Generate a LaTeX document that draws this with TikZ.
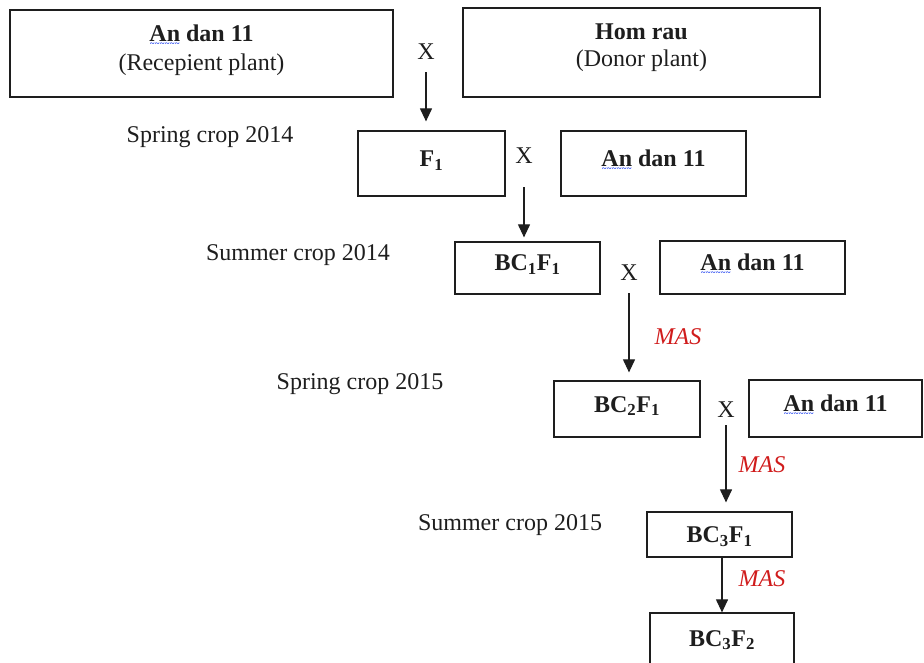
\documentclass[tikz,border=0pt]{standalone}
\usepackage{fontspec}
\setmainfont{Liberation Serif}
\usetikzlibrary{arrows.meta,positioning}
\definecolor{ink}{HTML}{1E1E1E}
\definecolor{masred}{HTML}{D01C1C}
\definecolor{spell}{HTML}{1A3CF0}
% spell-check squiggle under a word
\newcommand{\squig}[1]{\setbox0\hbox{#1}\rlap{\lower5pt\hbox to\wd0{\color{spell}\fontsize{8.5}{8.5}\selectfont\bfseries\xleaders\hbox{\char"007E}\hfill}}#1}

\begin{document}
\begin{tikzpicture}[x=1pt, y=-1pt,
  every node/.style={font=\fontsize{24}{29}\selectfont, text=ink},
  box/.style={draw=ink, line width=1.2pt, align=center, inner sep=0pt},
  single/.style={box, text height=16pt, text depth=10pt},
  cross/.style={inner sep=0pt},
  crop/.style={inner sep=0pt},
  mas/.style={text=masred, font=\fontsize{24}{29}\selectfont\itshape, inner sep=0pt},
  arr/.style={-{Triangle[length=13pt,width=12pt]}, ink, line width=1.1pt}
]
\useasboundingbox (0,0) rectangle (924,663);
\clip (0,0) rectangle (924,663);

% parents
\node[box, minimum width=383pt, minimum height=87pt] (rec) at (201.5,53.5)
  {\textbf{\squig{An} dan 11}\\(Recepient plant)\rule[-11.5pt]{0pt}{0pt}};
\node[box, minimum width=357pt, minimum height=89pt] (don) at (641.5,52.5)
  {\textbf{Hom rau}\\[-2pt](Donor plant)\rule[-14pt]{0pt}{0pt}};
\node[cross] (x1) at (426,52) {X};

% spring 2014
\node[crop] (c1) at (210,137) {Spring crop 2014};
\node[single, minimum width=147pt, minimum height=65pt] (f1) at (431.5,163.5)
  {\textbf{F\textsubscript{1}}};
\node[cross] (x2) at (524,156) {X};
\node[single, minimum width=185pt, minimum height=65pt] (rp1) at (653.5,163.5)
  {\textbf{\squig{An} dan 11}};

% summer 2014
\node[crop] (c2) at (298,255) {Summer crop 2014};
\node[single, minimum width=145pt, minimum height=52pt] (bc1) at (527.5,268)
  {\textbf{BC\textsubscript{1}F\textsubscript{1}}};
\node[cross] (x3) at (629,273) {X};
\node[single, minimum width=185pt, minimum height=53pt] (rp2) at (752.5,267.5)
  {\textbf{\squig{An} dan 11}};

% spring 2015
\node[crop] (c3) at (360,384) {Spring crop 2015};
\node[single, minimum width=146pt, minimum height=56pt] (bc2) at (627,409)
  {\textbf{BC\textsubscript{2}F\textsubscript{1}}};
\node[cross] (x4) at (726,410) {X};
\node[single, minimum width=173pt, minimum height=57pt] (rp3) at (835.5,408.5)
  {\textbf{\squig{An} dan 11}};

% summer 2015
\node[crop] (c4) at (510,525) {Summer crop 2015};
\node[single, text depth=0pt, minimum width=145pt, minimum height=45pt] (bc3) at (719.5,534.5)
  {\textbf{BC\textsubscript{3}F\textsubscript{1}}};
\node[single, minimum width=144pt, minimum height=60pt] (bc3f2) at (722,643)
  {\textbf{BC\textsubscript{3}F\textsubscript{2}}};

% MAS labels
\node[mas] (m1) at (678,337) {MAS};
\node[mas] (m2) at (762,465) {MAS};
\node[mas] (m3) at (762,579) {MAS};

\draw[arr, shorten <=12pt, shorten >=9pt] (x1.south) -- (x1.south |- f1.north);
\draw[arr, shorten <=23pt, shorten >=4pt] (x2.south) -- (x2.south |- bc1.north);
\draw[arr, shorten <=12pt, shorten >=8pt] (x3.south) -- (x3.south |- bc2.north);
\draw[arr, shorten <=7pt, shorten >=9pt] (x4.south) -- (x4.south |- bc3.north);
\draw[arr] (bc3f2.north |- bc3.south) -- (bc3f2.north);
\end{tikzpicture}
\end{document}
